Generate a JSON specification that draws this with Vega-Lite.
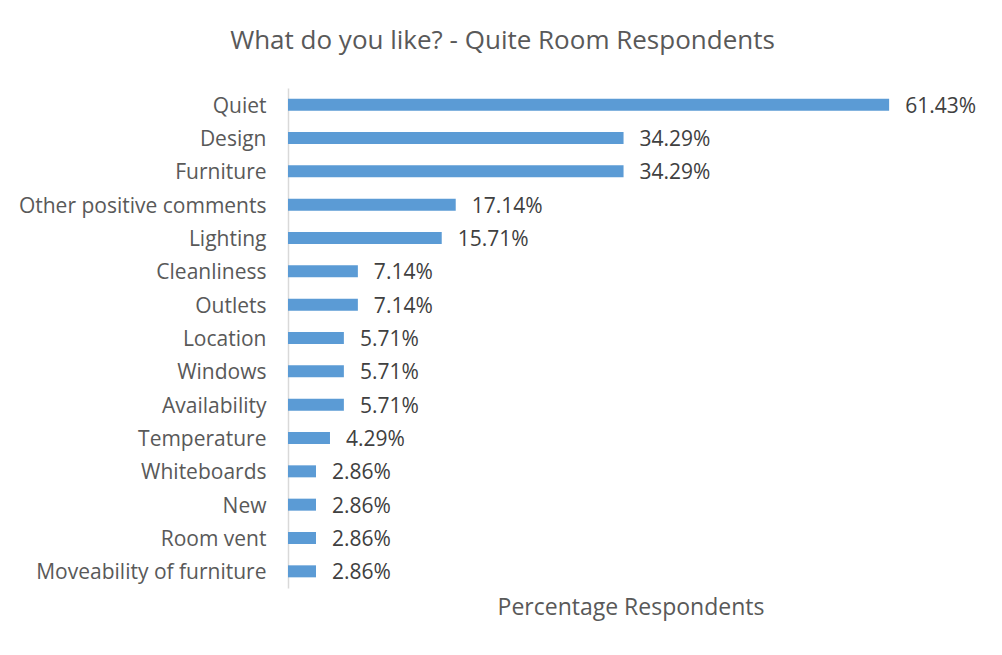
{
  "$schema": "https://vega.github.io/schema/vega-lite/v6.json",
  "autosize": "none",
  "width": 685,
  "height": 500,
  "padding": {"left": 288, "top": 88, "right": 29, "bottom": 67},
  "background": "white",
  "title": {
    "text": "What do you like? - Quite Room Respondents",
    "font": "Open Sans",
    "fontSize": 26,
    "fontWeight": "normal",
    "color": "#595959",
    "anchor": "middle",
    "dx": -128,
    "offset": 34
  },
  "config": {"view": {"stroke": null}},
  "data": {
    "values": [
      {"item": "Quiet", "share": 0.6143},
      {"item": "Design", "share": 0.3429},
      {"item": "Furniture", "share": 0.3429},
      {"item": "Other positive comments", "share": 0.1714},
      {"item": "Lighting", "share": 0.1571},
      {"item": "Cleanliness", "share": 0.0714},
      {"item": "Outlets", "share": 0.0714},
      {"item": "Location", "share": 0.0571},
      {"item": "Windows", "share": 0.0571},
      {"item": "Availability", "share": 0.0571},
      {"item": "Temperature", "share": 0.0429},
      {"item": "Whiteboards", "share": 0.0286},
      {"item": "New", "share": 0.0286},
      {"item": "Room vent", "share": 0.0286},
      {"item": "Moveability of furniture", "share": 0.0286}
    ]
  },
  "encoding": {
    "y": {
      "field": "item",
      "type": "nominal",
      "sort": null,
      "scale": {"paddingInner": 0.64, "paddingOuter": 0.32},
      "axis": {
        "title": null,
        "ticks": false,
        "domainColor": "#D9D9D9",
        "domainWidth": 1.5,
        "labelFont": "Open Sans",
        "labelFontSize": 21,
        "labelColor": "#595959",
        "labelPadding": 22,
        "labelOffset": 2,
        "labelLimit": 400
      }
    },
    "x": {
      "field": "share",
      "type": "quantitative",
      "scale": {"domain": [0, 0.7], "nice": false},
      "axis": {
        "title": "Percentage Respondents",
        "titleFont": "Open Sans",
        "titleFontSize": 23,
        "titleFontWeight": "normal",
        "titleColor": "#595959",
        "titlePadding": 8,
        "labels": false,
        "ticks": false,
        "domain": false,
        "grid": false
      }
    }
  },
  "layer": [
    {"mark": {"type": "bar", "color": "#5B9BD5"}},
    {
      "mark": {"type": "text", "align": "left", "dx": 16, "dy": 2, "font": "Open Sans", "fontSize": 21, "color": "#404040"},
      "encoding": {"text": {"field": "share", "type": "quantitative", "format": ".2%"}}
    }
  ]
}
